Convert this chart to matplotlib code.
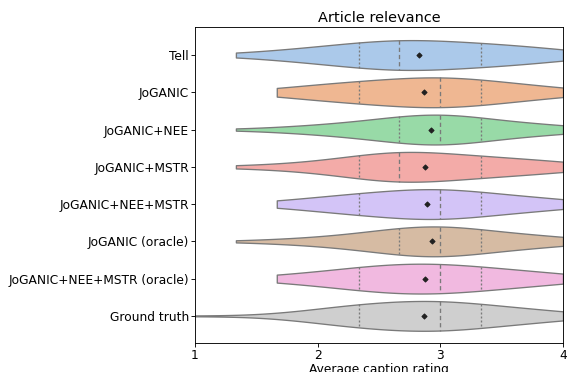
import numpy as np
import pandas as pd
import matplotlib
matplotlib.use("Agg")
import matplotlib.pyplot as plt
import seaborn as sns

# rating levels (average of three annotators)
levels = [1.0, 4/3, 5/3, 2.0, 7/3, 8/3, 3.0, 10/3, 11/3, 4.0]

models = [
    "Tell",
    "JoGANIC",
    "JoGANIC+NEE",
    "JoGANIC+MSTR",
    "JoGANIC+NEE+MSTR",
    "JoGANIC (oracle)",
    "JoGANIC+NEE+MSTR (oracle)",
    "Ground truth",
]

# number of captions at each rating level (estimated from the plot)
tell_counts        = [0, 2, 5, 10, 14, 21, 16, 14, 11, 7]
joganic_counts     = [0, 0, 5, 10, 14, 17, 22, 16, 10, 6]
nee_counts         = [0, 1, 3, 7, 11, 19, 27, 16, 9, 7]
mstr_counts        = [0, 2, 3, 7, 14, 25, 17, 14, 10, 8]
nee_mstr_counts    = [0, 0, 4, 9, 14, 18, 23, 15, 10, 7]
oracle_counts      = [0, 1, 3, 6, 11, 20, 26, 16, 10, 7]
nee_mstr_or_counts = [0, 0, 5, 8, 15, 20, 20, 15, 10, 7]
gt_counts          = [1, 0, 2, 9, 16, 19, 22, 15, 10, 6]

all_counts = [tell_counts, joganic_counts, nee_counts, mstr_counts,
              nee_mstr_counts, oracle_counts, nee_mstr_or_counts, gt_counts]

rows = []
for name, counts in zip(models, all_counts):
    for v in np.repeat(levels, counts):
        rows.append((name, v))
df = pd.DataFrame(rows, columns=["model", "rating"])

plt.rcParams["font.size"] = 11

fig = plt.figure(figsize=(567 / 80, 372 / 80), dpi=80)
ax = fig.add_axes([195 / 567, 29.3 / 372, 368 / 567, 316 / 372])

sns.violinplot(data=df, x="rating", y="model", hue="model", order=models,
               hue_order=models, palette="pastel", legend=False, orient="h",
               inner="quartile", cut=0, bw_adjust=1.4, linecolor="#7a7a7a",
               linewidth=1.2, inner_kws=dict(linewidth=1.2, color="#7a7a7a"),
               ax=ax)

# old-style quartile lines: dashed median, dotted quartiles
for i, ln in enumerate(ax.lines):
    if i % 3 == 1:
        ln.set_dashes([3.2, 2.2])
    else:
        ln.set_dashes([1.5, 1.5])

means = df.groupby("model")["rating"].mean().reindex(models)
ax.scatter(means.values, np.arange(len(models)), marker="D", s=10,
           color="#202020", zorder=5)

ax.set_xlim(1, 4)
ax.set_ylim(7.72, -0.76)
ax.set_xticks([1, 2, 3, 4])
ax.tick_params(axis="y", pad=2)
ax.tick_params(axis="x", pad=2)
ax.set_xlabel("Average caption rating", labelpad=1)
ax.set_ylabel("")
ax.set_title("Article relevance", fontsize=13, pad=4)

fig.savefig("out.png", dpi=80)
